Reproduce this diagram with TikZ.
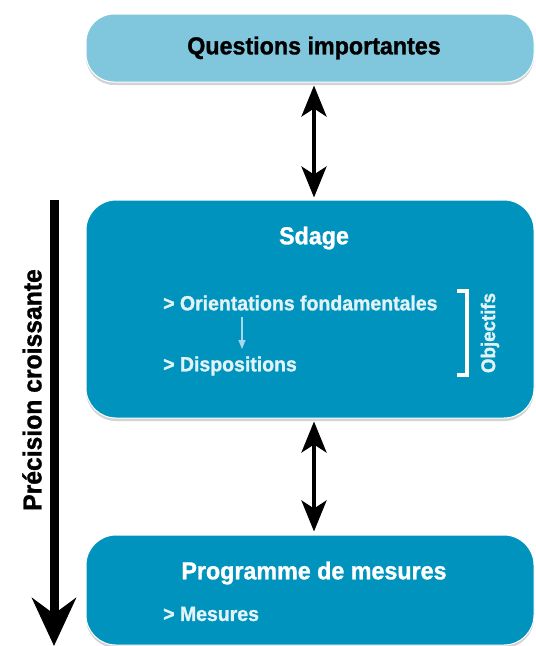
\documentclass[tikz,border=0pt]{standalone}
\usepackage{fontspec}
\setmainfont{Liberation Sans}[FakeStretch=0.95, BoldFeatures={FakeBold=1.2}]
\usetikzlibrary{arrows.meta,positioning,shadows}

\definecolor{lightblue}{HTML}{80C6DD}
\definecolor{deepblue}{HTML}{0093BE}
\definecolor{paleblue}{HTML}{E2F3F8}
\definecolor{arrowblue}{HTML}{A6D9EA}

\tikzset{
  box/.style={draw=white, line width=1pt, rounded corners=30pt,
    drop shadow={shadow xshift=0pt, shadow yshift=-3pt, opacity=0.35}},
  title/.style={font=\fontsize{24.5}{26}\selectfont\bfseries, inner sep=0pt},
  item/.style={font=\fontsize{20.5}{22}\selectfont\bfseries, text=paleblue,
    anchor=west, inner sep=0pt},
  dbl/.style={line width=4pt,
    {Stealth[length=31pt,width=25pt,inset=8pt]}-{Stealth[length=31pt,width=25pt,inset=8pt]}},
}

\begin{document}
\begin{tikzpicture}[x=1pt,y=-1pt]
  \useasboundingbox (0,0) rectangle (536,646);
  \clip (0,0) rectangle (536,646);

  %%%%%%%%%%%%%%%%Boxes%%%%%%%%%%%%%%
  \node[box, fill=lightblue, rounded corners=28pt, minimum width=448pt,
    minimum height=68pt] (qbox) at (310,48) {};
  \node[box, fill=deepblue, minimum width=448pt, minimum height=218pt] (sbox) at (310,309) {};
  \node[box, fill=deepblue, minimum width=448pt, minimum height=110pt] (pbox) at (310,590) {};

  \node[title] (qtitle) at (314,48) {Questions importantes};
  \node[title, text=white] (stitle) at (314,238) {Sdage};
  \node[title, text=white] (ptitle) at (314,573) {Programme de mesures};

  \node[item] (orient) at (163,303) {> Orientations fondamentales};
  \node[item] (dispo) at (163,366) {> Dispositions};
  \node[item] (mes) at (163,614) {> Mesures};

  \coordinate (o1) at (242,317);
  \coordinate (o2) at (242,349);
  \draw[arrowblue, line width=1.2pt, -{Triangle[length=9pt,width=7pt]}] (o1) -- (o2);

  %%%%%%%%%%%%%%%%Objectifs%%%%%%%%%%%%%%
  \draw[white, line width=4pt] (457,291) -| (467,375) -- (457,375);
  \node[rotate=90, font=\fontsize{19.7}{21}\selectfont\bfseries, text=paleblue,
    inner sep=0pt] (obj) at (490,333) {Objectifs};

  %%%%%%%%%%%%%%%%Arrows%%%%%%%%%%%%%%
  \draw[dbl, shorten <=3pt, shorten >=2pt] (qbox.south -| qtitle) -- (sbox.north -| qtitle);
  \draw[dbl, shorten <=3pt, shorten >=3pt] (sbox.south -| qtitle) -- (pbox.north -| qtitle);

  \coordinate (ptop) at (54,200);
  \coordinate (pbot) at (54,646);
  \draw[line width=9pt, -{Stealth[length=48pt,width=44pt,inset=16pt]}] (ptop) -- (pbot);
  \node[title, rotate=90, font=\fontsize{26}{28}\selectfont\bfseries] (prec) at (32,390) {Précision croissante};
\end{tikzpicture}
\end{document}
